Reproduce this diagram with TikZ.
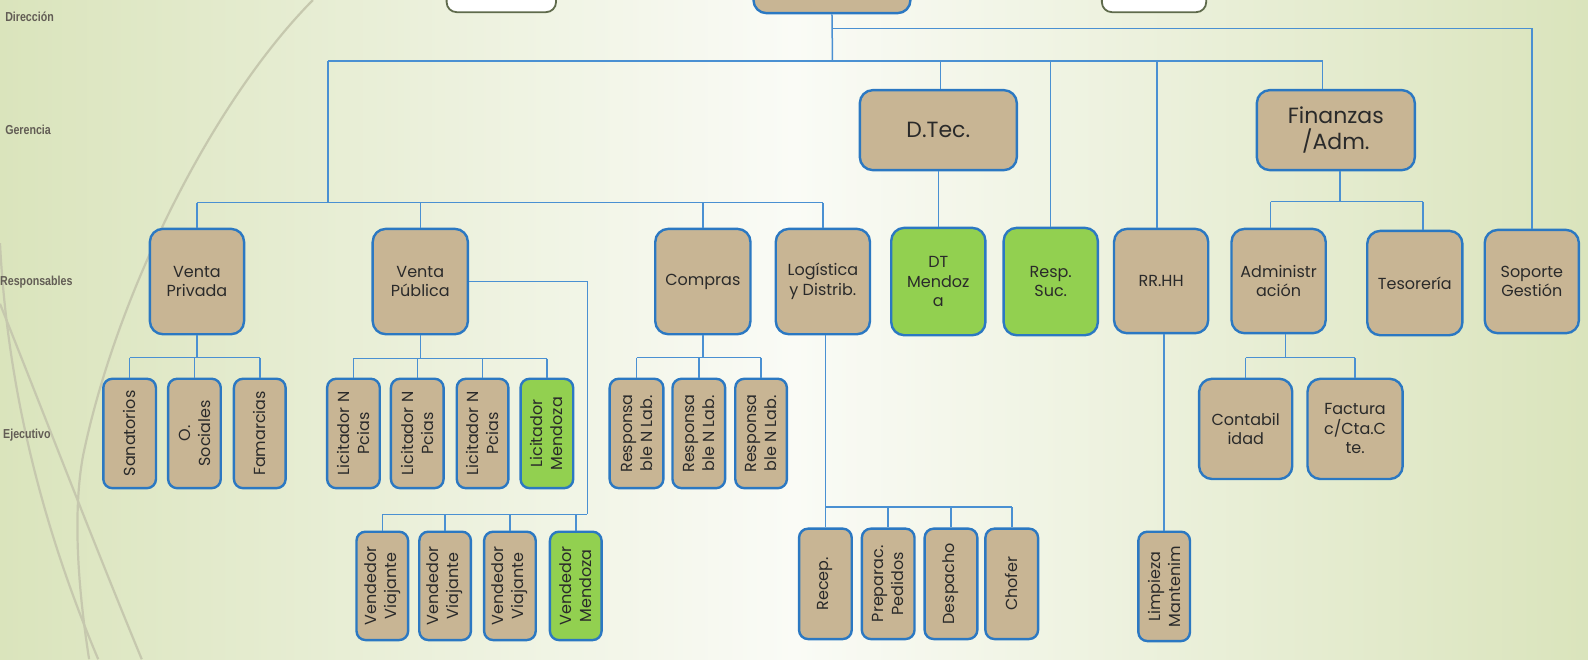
\documentclass[tikz,border=0pt]{standalone}
\usepackage{fontspec}
\usepackage{graphicx}
\setmainfont{Poppins}
\newfontfamily\labfont{Liberation Sans}
\usetikzlibrary{calc}
\definecolor{boxtan}{HTML}{C8B594}
\definecolor{boxgrn}{HTML}{92D050}
\definecolor{bordc}{HTML}{2B78C2}
\definecolor{connc}{HTML}{4A90D2}
\definecolor{bgside}{HTML}{DAE4BC}
\definecolor{bgmid}{HTML}{FAFBF6}
\definecolor{curvc}{HTML}{C6C8AE}
\definecolor{txtc}{HTML}{2A2A2A}
\definecolor{olivec}{HTML}{5F6B4C}
\definecolor{labc}{HTML}{625D55}
\newcommand\bx[7]{\node[#6, minimum width={(#4-#2)*1.0128pt}, minimum height={(#5-#3)*1.0128pt}] (#1) at ({(#2+#4)/2},{(#3+#5)/2}) {#7};}
\tikzset{
 box/.style={draw=bordc, line width=2.4pt, fill=boxtan, rounded corners=13pt, text=txtc, align=center, font=\fontsize{16}{19.5}\selectfont, inner sep=0pt},
 gbox/.style={box, fill=boxgrn},
 bigfont/.style={font=\fontsize{22}{26}\selectfont},
 ebox/.style={box, rounded corners=9pt},
 egbox/.style={ebox, fill=boxgrn},
 wbox/.style={draw=olivec, line width=1.8pt, fill=white, rounded corners=10pt, inner sep=0pt},
 rtext/.style={rotate=90, align=center, text=txtc, font=\fontsize{16}{20}\selectfont, inner sep=0pt},
 cn/.style={draw=connc, line width=1.5pt},
 lab/.style={anchor=west, text=labc, font=\labfont\bfseries\fontsize{13}{13}\selectfont, inner sep=0pt},
 curv/.style={draw=curvc, line width=2.2pt},
}
\begin{document}
\begin{tikzpicture}[x=1.0128pt,y=-1.0128pt]
\useasboundingbox (0,0) rectangle (1568,651);
\clip (0,0) rectangle (1568,651);
\shade[left color=bgside, right color=bgside, middle color=bgmid] (0,0) rectangle (1568,651);
% decorative curves
\draw[curv] (309,0) .. controls (210,100) and (115,290) .. (82,450) .. controls (70,515) and (80,600) .. (88,651);
\draw[curv] (0,240) .. controls (8,400) and (50,540) .. (97,651);
\draw[curv] (0,300) .. controls (40,400) and (90,530) .. (140,651);
% level labels
\node[lab] (l1) at (5,17) {\scalebox{0.82}[1]{Dirección}};
\node[lab] (l2) at (5,128) {\scalebox{0.82}[1]{Gerencia}};
\node[lab] (l3) at (0,279) {\scalebox{0.82}[1]{Responsables}};
\node[lab] (l4) at (3,430) {\scalebox{0.82}[1]{Ejecutivo}};
% top
\bx{tl}{441}{-30}{549}{12}{wbox}{}
\bx{dir}{744}{-30}{899}{13}{box}{}
\bx{tr}{1088}{-30}{1191}{12}{wbox}{}
% gerencia
\bx{dtec}{849}{89}{1004}{168}{box,bigfont}{D.Tec.}
\bx{finz}{1241}{89}{1397}{168}{box,bigfont}{Finanzas\\/Adm.}
% responsables
\bx{vpriv}{148}{226}{241}{330}{box}{Venta\\Privada}
\bx{vpub}{368}{226}{462}{330}{box}{Venta\\Pública}
\bx{comp}{647}{226}{741}{330}{box}{Compras}
\bx{logi}{766}{226}{859}{330}{box}{Logística\\y Distrib.}
\bx{dtm}{880}{225}{973}{331}{gbox}{DT\\Mendoz\\a}
\bx{resp}{991}{225}{1084}{331}{gbox}{Resp.\\Suc.}
\bx{rrhh}{1100}{226}{1193}{329}{box}{RR.HH}
\bx{adm}{1216}{226}{1309}{329}{box}{Administr\\ación}
\bx{tes}{1350}{228}{1444}{331}{box}{Tesorería}
\bx{sop}{1466}{227}{1559}{329}{box}{Soporte\\Gestión}
% ejecutivo
\bx{san}{102}{374}{154}{482}{ebox}{}
\bx{osoc}{166}{374}{218}{482}{ebox}{}
\bx{fam}{231}{374}{282}{482}{ebox}{}
\bx{lic1}{323}{374}{375}{482}{ebox}{}
\bx{lic2}{386}{374}{438}{482}{ebox}{}
\bx{lic3}{451}{374}{502}{482}{ebox}{}
\bx{lic4}{514}{374}{566}{482}{egbox}{}
\bx{ven1}{352}{525}{403}{632}{ebox}{}
\bx{ven2}{414}{525}{465}{632}{ebox}{}
\bx{ven3}{478}{525}{529}{632}{ebox}{}
\bx{ven4}{543}{525}{594}{632}{egbox}{}
\bx{res1}{602}{374}{655}{482}{ebox}{}
\bx{res2}{664}{374}{716}{482}{ebox}{}
\bx{res3}{726}{374}{777}{482}{ebox}{}
\bx{rec}{789}{522}{841}{631}{ebox}{}
\bx{prep}{851}{522}{903}{631}{ebox}{}
\bx{desp}{913}{522}{965}{631}{ebox}{}
\bx{chof}{973}{522}{1025}{631}{ebox}{}
\bx{limp}{1124}{525}{1175}{633}{ebox}{}
\bx{cont}{1184}{374}{1276}{473}{box}{Contabil\\idad}
\bx{fact}{1291}{374}{1385}{473}{box}{Factura\\c/Cta.C\\te.}
% rotated texts
\node[rtext] (san-t) at (san) {Sanatorios};
\node[rtext] (osoc-t) at (osoc) {O.\\Sociales};
\node[rtext] (fam-t) at (fam) {Famarcias};
\node[rtext] (lic1-t) at (lic1) {Licitador N\\Pcias};
\node[rtext] (lic2-t) at (lic2) {Licitador N\\Pcias};
\node[rtext] (lic3-t) at (lic3) {Licitador N\\Pcias};
\node[rtext] (lic4-t) at (lic4) {Licitador\\Mendoza};
\node[rtext] (ven1-t) at (ven1) {Vendedor\\Viajante};
\node[rtext] (ven2-t) at (ven2) {Vendedor\\Viajante};
\node[rtext] (ven3-t) at (ven3) {Vendedor\\Viajante};
\node[rtext] (ven4-t) at (ven4) {Vendedor\\Mendoza};
\node[rtext] (res1-t) at (res1) {Responsa\\ble N Lab.};
\node[rtext] (res2-t) at (res2) {Responsa\\ble N Lab.};
\node[rtext] (res3-t) at (res3) {Responsa\\ble N Lab.};
\node[rtext] (rec-t) at (rec) {Recep.};
\node[rtext] (prep-t) at (prep) {Preparac.\\Pedidos};
\node[rtext] (desp-t) at (desp) {Despacho};
\node[rtext] (chof-t) at (chof) {Chofer};
\node[rtext] (limp-t) at (limp) {Limpieza\\Mantenim};
% connectors: top
\coordinate (jm) at (822,60);
\coordinate (ju) at (822,28);
\coordinate (mL) at (324,60);
\coordinate (vb) at (324,200);
\coordinate (fT) at ($(finz.north)+(-13,0)$);
\draw[cn] (dir.south) -- (jm);
\draw[cn] (ju) -| (sop.north);
\draw[cn] (mL) -- (fT |- mL) -- (fT);
\draw[cn] (mL) -- (vb);
\draw[cn] ($(dtec.north |- mL)+(2,0)$) -- ($(dtec.north)+(2,0)$);
\draw[cn] (resp.north |- mL) -- (resp.north);
\draw[cn] ($(rrhh.north |- mL)+(-4,0)$) -- ($(rrhh.north)+(-4,0)$);
\draw[cn] (vpriv.north |- vb) -- (logi.north |- vb);
\foreach \n in {vpriv,vpub,comp,logi} \draw[cn] (\n.north |- vb) -- (\n.north);
% D.Tec
\draw[cn] (dtm.north |- dtec.south) -- (dtm.north);
% Finanzas
\coordinate (fb) at ($(finz.south)+(4,30)$);
\draw[cn] ($(finz.south)+(4,0)$) -- (fb);
\draw[cn] ($(adm.north |- fb)+(-8,0)$) -- ($(tes.north |- fb)+(8,0)$);
\draw[cn] ($(adm.north |- fb)+(-8,0)$) -- ($(adm.north)+(-8,0)$);
\draw[cn] ($(tes.north |- fb)+(8,0)$) -- ($(tes.north)+(8,0)$);
% Venta Privada
\coordinate (pb) at ($(vpriv.south)+(0,22)$);
\draw[cn] (vpriv.south) -- (pb);
\draw[cn] (san.north |- pb) -- (fam.north |- pb);
\foreach \n in {san,osoc,fam} \draw[cn] (\n.north |- pb) -- (\n.north);
% Venta Publica
\coordinate (qb) at ($(vpub.south)+(0,23)$);
\draw[cn] (vpub.south) -- (qb);
\draw[cn] (lic1.north |- qb) -- (lic4.north |- qb);
\foreach \n in {lic1,lic2,lic3,lic4} \draw[cn] (\n.north |- qb) -- (\n.north);
\coordinate (vr) at (580,508);
\draw[cn] (vpub.east) -| (vr);
\draw[cn] (ven1.north |- vr) -- (vr);
\foreach \n in {ven1,ven2,ven3,ven4} \draw[cn] (\n.north |- vr) -- (\n.north);
% Compras
\coordinate (cb) at ($(comp.south)+(0,22)$);
\draw[cn] (comp.south) -- (cb);
\draw[cn] (res1.north |- cb) -- (res3.north |- cb);
\foreach \n in {res1,res2,res3} \draw[cn] (\n.north |- cb) -- (\n.north);
% Logistica
\coordinate (lb) at ($(rec.north)+(0,-20)$);
\draw[cn] (rec.north |- logi.south) -- (rec.north);
\draw[cn] (lb) -- (chof.north |- lb);
\foreach \n in {prep,desp,chof} \draw[cn] (\n.north |- lb) -- (\n.north);
% RR.HH
\draw[cn] (limp.north |- rrhh.south) -- (limp.north);
% Administracion
\coordinate (ab) at ($(adm.south)+(7,23)$);
\draw[cn] ($(adm.south)+(7,0)$) -- (ab);
\draw[cn] (cont.north |- ab) -- (fact.north |- ab);
\foreach \n in {cont,fact} \draw[cn] (\n.north |- ab) -- (\n.north);
\end{tikzpicture}
\end{document}
